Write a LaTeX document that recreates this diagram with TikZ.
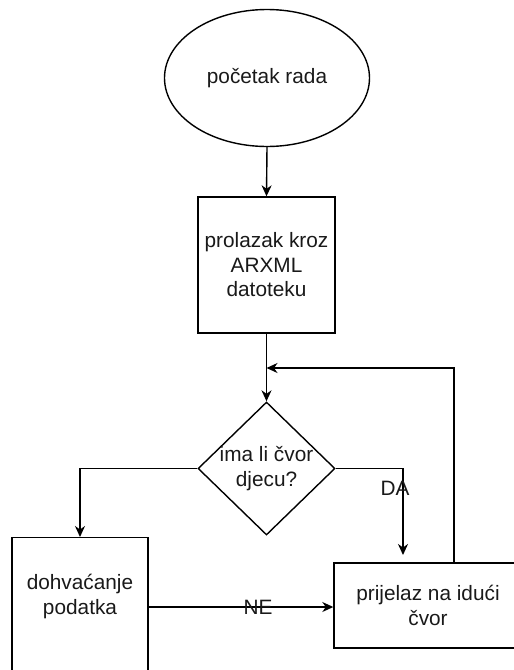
\documentclass[tikz,border=0pt]{standalone}
\usepackage{fontspec}
\setmainfont{Liberation Sans}
\usetikzlibrary{shapes.geometric,arrows.meta}
\tikzset{
  every node/.style={font=\fontsize{20.8}{24.5}\selectfont, align=center, text=black!90},
  box/.style={draw=black, line width=1.4pt, rectangle, inner sep=0pt},
  conn/.style={draw=black, line width=1.4pt},
  arr/.style={conn, -{Stealth[length=11pt,width=10pt,inset=3.5pt]}},
  lbl/.style={inner sep=0pt, font=\fontsize{20.8}{25}\selectfont}
}
\begin{document}
\begin{tikzpicture}[x=1pt,y=-1pt]
\useasboundingbox (0,0) rectangle (514,670);
\clip (0,0) rectangle (514,670);
\node[draw=black, line width=1.4pt, ellipse, minimum width=205pt, minimum height=137pt, inner sep=0pt] (start) at (267,78) {početak rada};
\node[box, minimum width=137pt, minimum height=136pt] (proc) at (266.5,265) {prolazak kroz\\ARXML\\datoteku};
\node[draw=black, line width=1.4pt, diamond, minimum width=137pt, minimum height=133pt, inner sep=0pt] (dec) at (266.5,468.5) {};
\node[lbl] (dectext) at (dec) {ima li čvor\\djecu?};
\node[box, minimum width=136pt, minimum height=170pt, anchor=north] (fetch) at (80,537) {};
\node[lbl] (fetchtext) at (80,596) {dohvaćanje\\podatka};
\node[box, minimum width=188pt, minimum height=85pt] (next) at (428,605.5) {prijelaz na idući\\čvor};
\coordinate (daend) at (403,555);
\coordinate (loopend) at (266.5,368);
\coordinate (loopx) at (454,368);
\coordinate (ne) at (148,607);
\draw[arr] (start.south) -- (proc.north);
\draw[arr] (proc.south) -- (dec.north);
\draw[arr] (dec.west) -| (fetch.north);
\draw[arr] (dec.east) -| (daend);
\draw[arr] (ne) -- (next.west |- ne);
\draw[arr] (next.north -| loopx) -- (loopx) -- (loopend);
\node[lbl] (da) at (395,488) {DA};
\node[lbl] (nelbl) at (258,607) {NE};
\end{tikzpicture}
\end{document}
